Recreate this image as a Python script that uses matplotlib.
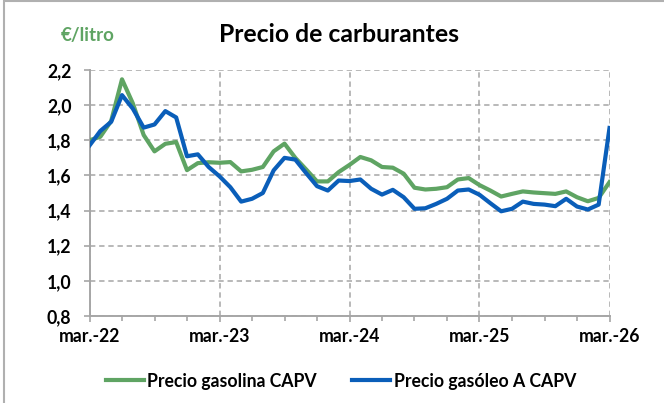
import matplotlib.pyplot as plt
from matplotlib.patches import Rectangle
from matplotlib.ticker import FixedLocator

# monthly prices mar-22 .. mar-26 (EUR/litre)
gasolina = [1.80, 1.82, 1.91, 2.147, 2.01, 1.83, 1.737, 1.78, 1.79, 1.63, 1.67, 1.675,
            1.672, 1.676, 1.623, 1.632, 1.648, 1.737, 1.781, 1.70, 1.634, 1.566, 1.566, 1.619,
            1.66, 1.705, 1.686, 1.648, 1.644, 1.61, 1.53, 1.52, 1.524, 1.533, 1.577, 1.585,
            1.545, 1.514, 1.48, 1.495, 1.509, 1.503, 1.499, 1.495, 1.509, 1.476, 1.453, 1.472,
            1.562]
gasoleo = [1.77, 1.853, 1.905, 2.057, 1.98, 1.872, 1.89, 1.966, 1.93, 1.709, 1.72, 1.648,
           1.595, 1.533, 1.451, 1.467, 1.50, 1.629, 1.70, 1.69, 1.613, 1.539, 1.514, 1.571,
           1.568, 1.577, 1.524, 1.491, 1.518, 1.476, 1.41, 1.413, 1.438, 1.467, 1.514, 1.52,
           1.49, 1.442, 1.396, 1.41, 1.451, 1.438, 1.434, 1.425, 1.467, 1.423, 1.406, 1.434,
           1.87]
year_labels = ['mar.-22', 'mar.-23', 'mar.-24', 'mar.-25', 'mar.-26']
y_ticks = [0.8, 1.0, 1.2, 1.4, 1.6, 1.8, 2.0, 2.2]

verde = '#5fa463'
azul = '#0a5eb9'
gris = '#a6a6a6'

plt.rcParams['font.family'] = ['Lato', 'DejaVu Sans']
plt.rcParams['font.weight'] = 'bold'

fig = plt.figure(figsize=(6.64, 4.03), dpi=100)
ax = fig.add_axes([89.5 / 664, 1 - 316 / 403, 520 / 664, 246 / 403])

x = list(range(len(gasolina)))
ax.plot(x, gasolina, color=verde, lw=3, label='Precio gasolina CAPV', zorder=3)
ax.plot(x, gasoleo, color=azul, lw=3, label='Precio gasóleo A CAPV', zorder=4)

ax.set_xlim(0, 48)
ax.set_ylim(0.8, 2.2)
ax.set_xticks([0, 12, 24, 36, 48])
ax.set_xticklabels(year_labels)
ax.xaxis.set_minor_locator(FixedLocator([m for m in range(49) if m % 3 == 0 and m % 12 != 0]))
ax.set_yticks(y_ticks)
ax.set_yticklabels([f'{v:.1f}'.replace('.', ',') for v in y_ticks])

ax.grid(True, which='major', color=gris, ls=(0, (3.5, 2.5)), lw=1.1, zorder=1)
for s in ['top', 'right']:
    ax.spines[s].set_visible(False)
for s in ['left', 'bottom']:
    ax.spines[s].set_color(gris)
    ax.spines[s].set_linewidth(1.4)

ax.tick_params(axis='both', which='major', colors=gris, labelcolor='black',
               labelsize=12.7, length=4, width=1.2)
ax.tick_params(axis='x', which='major', pad=5)
ax.tick_params(axis='y', which='major', pad=9)
ax.tick_params(axis='x', which='minor', colors=gris, length=3.5, width=1.2)
for lab in ax.get_xticklabels() + ax.get_yticklabels():
    lab.set_fontweight('bold')

fig.text(339 / 664, 1 - 35 / 403, 'Precio de carburantes', ha='center', va='center',
         fontsize=17.8, fontweight='bold', color='black')
fig.text(61 / 664, 1 - 36 / 403, '€/litro', ha='left', va='center',
         fontsize=13.5, fontweight='bold', color=verde)

leg = fig.legend(loc='center', bbox_to_anchor=(341 / 664, 1 - 381 / 403), ncol=2,
                 frameon=False, fontsize=12.7, handlelength=2.15, handletextpad=0.2,
                 columnspacing=2.0)
for t in leg.get_texts():
    t.set_fontweight('bold')

fig.patches.append(Rectangle((4 / 664, -0.1), 1.2, 1.1 - 1 / 403, transform=fig.transFigure,
                             fill=False, edgecolor='#b0b0b0', lw=1.5))

fig.savefig('out.png', dpi=100)
